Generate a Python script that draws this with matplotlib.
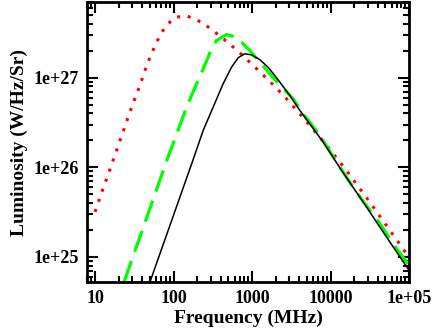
import matplotlib
matplotlib.use("Agg")
import matplotlib.pyplot as plt
from matplotlib.ticker import LogLocator, NullFormatter

# Black solid curve
black_freq = [50.1, 176.6, 239, 320, 429, 548, 666, 809, 985, 1257, 1603, 2051,
              3027, 4058, 8036, 13770, 28650, 51400, 100000]
black_lum = [5.25e24, 1.2e26, 2.59e26, 4.71e26, 8.58e26, 1.31e27, 1.67e27, 1.85e27,
             1.80e27, 1.59e27, 1.31e27, 1.0e27, 6.35e26, 4.33e26, 1.92e26, 9.3e25,
             3.62e25, 1.68e25, 7.1e24]

# Green dashed curve
green_freq = [23.4, 82.4, 146.9, 197, 239, 305, 353, 474, 575, 735, 938, 1257,
              1683, 2148, 3336, 4467, 7290, 13100, 21350, 42300, 68900, 100000]
green_lum = [5.25e24, 1.2e26, 4.71e26, 8.58e26, 1.26e27, 2.1e27, 2.6e27, 3.03e27,
             2.89e27, 2.49e27, 2.01e27, 1.49e27, 1.11e27, 8.7e26, 5.83e26, 3.97e26,
             2.28e26, 1.01e26, 5.3e25, 2.37e25, 1.25e25, 8.1e24]

# Red dotted curve
red_freq = [10, 12.4, 15.5, 29.6, 37.4, 46.3, 59.7, 69.2, 83.2, 107.3, 146.9,
            198.7, 264, 343, 442, 565, 721, 1167, 1854, 2936, 4467, 8430,
            15600, 28050, 49900, 87900, 100000]
red_lum = [3.18e25, 5.52e25, 9.5e25, 4.83e26, 8.27e26, 1.43e27, 2.41e27, 3.11e27,
           3.95e27, 4.73e27, 4.9e27, 4.42e27, 3.79e27, 3.19e27, 2.67e27, 2.23e27,
           1.85e27, 1.24e27, 8.36e26, 5.49e26, 3.59e26, 1.87e26, 9.45e25, 4.73e25,
           2.34e25, 1.16e25, 9.9e24]

x_ticks = [10, 100, 1000, 10000, 100000]
x_ticklabels = ["10", "100", "1000", "10000", "1e+05"]
y_ticks = [1e25, 1e26, 1e27]
y_ticklabels = ["1e+25", "1e+26", "1e+27"]

plt.rcParams['font.family'] = ['Liberation Serif', 'DejaVu Serif']
plt.rcParams['font.weight'] = 'bold'

fig = plt.figure(figsize=(4.36, 3.35), dpi=100)
ax = fig.add_axes([87/436, 53/335, (409-87)/436, (282-2)/335])

ax.plot(red_freq, red_lum, color='#ff0000', lw=2.2, linestyle=(0, (1, 2.5)),
        dash_capstyle='butt')
ax.plot(green_freq, green_lum, color='#00ff00', lw=2.3, linestyle=(0, (7, 3)))
ax.plot(black_freq, black_lum, color='black', lw=1.1)

ax.set_xscale('log')
ax.set_yscale('log')
ax.set_xlim(7.9, 1e5)
ax.set_ylim(5.25e24, 7.0e27)

ax.set_xticks(x_ticks)
ax.set_xticklabels(x_ticklabels)
ax.set_yticks(y_ticks)
ax.set_yticklabels(y_ticklabels)
ax.xaxis.set_minor_locator(LogLocator(base=10, subs=range(2, 10), numticks=20))
ax.yaxis.set_minor_locator(LogLocator(base=10, subs=range(2, 10), numticks=20))
ax.xaxis.set_minor_formatter(NullFormatter())
ax.yaxis.set_minor_formatter(NullFormatter())

ax.tick_params(which='both', direction='in', top=True, right=True, width=1.5)
ax.tick_params(which='major', length=8, labelsize=13, pad=6)
ax.tick_params(which='minor', length=4.3)
for lab in ax.get_xticklabels() + ax.get_yticklabels():
    lab.set_fontweight('bold')
for s in ax.spines.values():
    s.set_linewidth(2)

ax.set_xlabel('Frequency (MHz)', fontsize=14, fontweight='bold', labelpad=2)
ax.set_ylabel('Luminosity (W/Hz/Sr)', fontsize=14, fontweight='bold', labelpad=4)

fig.savefig('out.png', dpi=100)
